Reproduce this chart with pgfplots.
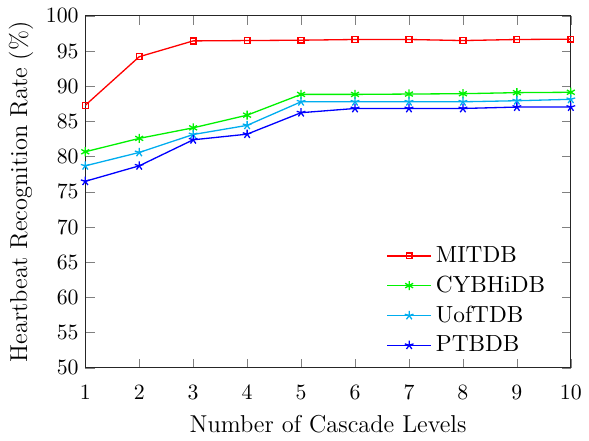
\documentclass[border=0pt]{standalone}
\usepackage{pgfplots}
\pgfplotsset{compat=1.18}
\definecolor{mgreen}{rgb}{0,0.95,0}
\begin{document}
\begin{tikzpicture}
\begin{axis}[
  scale only axis=true,
  width=222.7pt, height=161.4pt,
  xmin=1, xmax=10, ymin=50, ymax=100,
  xtick={1,...,10}, ytick={50,55,...,100},
  tick align=inside,
  axis line style={black!85},
  xticklabel style={yshift=-4.5pt},
  yticklabel style={xshift=0.5pt},
  xlabel={Number of Cascade Levels},
  ylabel={Heartbeat Recognition Rate (\%)},
  every axis x label/.style={at={(axis description cs:0.5,0)}, anchor=center, yshift=-26pt, font=\fontsize{11.2}{13}\selectfont},
  every axis y label/.style={at={(axis description cs:0,0.5)}, anchor=center, xshift=-29.5pt, rotate=90, font=\fontsize{11.2}{13}\selectfont},
  legend style={draw=none, fill=none, at={(1,0)}, anchor=south east, xshift=-6.6pt, yshift=1.75pt, row sep=0.7pt, font=\fontsize{10.7}{12}\selectfont},
  legend image code/.code={\draw[mark repeat=2,mark phase=2] plot coordinates {(0cm,0cm) (0.35cm,0cm) (0.7cm,0cm)};},
  legend cell align=left,
  every axis plot/.append style={line width=0.6pt},
]
\addplot[red, mark=square, mark size=1.35pt] coordinates {
(1,87.3) (2,94.2) (3,96.45) (4,96.5) (5,96.55) (6,96.65) (7,96.65) (8,96.5) (9,96.65) (10,96.7)};
\addlegendentry{MITDB}
\addplot[mgreen, mark=asterisk, mark size=2.1pt] coordinates {
(1,80.7) (2,82.6) (3,84.1) (4,85.9) (5,88.85) (6,88.85) (7,88.9) (8,88.95) (9,89.1) (10,89.15)};
\addlegendentry{CYBHiDB}
\addplot[cyan, mark=star, mark size=2.1pt] coordinates {
(1,78.7) (2,80.6) (3,83.15) (4,84.45) (5,87.8) (6,87.8) (7,87.8) (8,87.8) (9,87.95) (10,88.15)};
\addlegendentry{UofTDB}
\addplot[blue, mark=star, mark size=2.1pt] coordinates {
(1,76.5) (2,78.7) (3,82.4) (4,83.2) (5,86.25) (6,86.85) (7,86.85) (8,86.85) (9,87.05) (10,87.05)};
\addlegendentry{PTBDB}
\end{axis}
\path ([shift={(-39.1pt,-31.8pt)}]current axis.south west) ([shift={(5.9pt,7.3pt)}]current axis.north east);
\end{tikzpicture}
\end{document}
